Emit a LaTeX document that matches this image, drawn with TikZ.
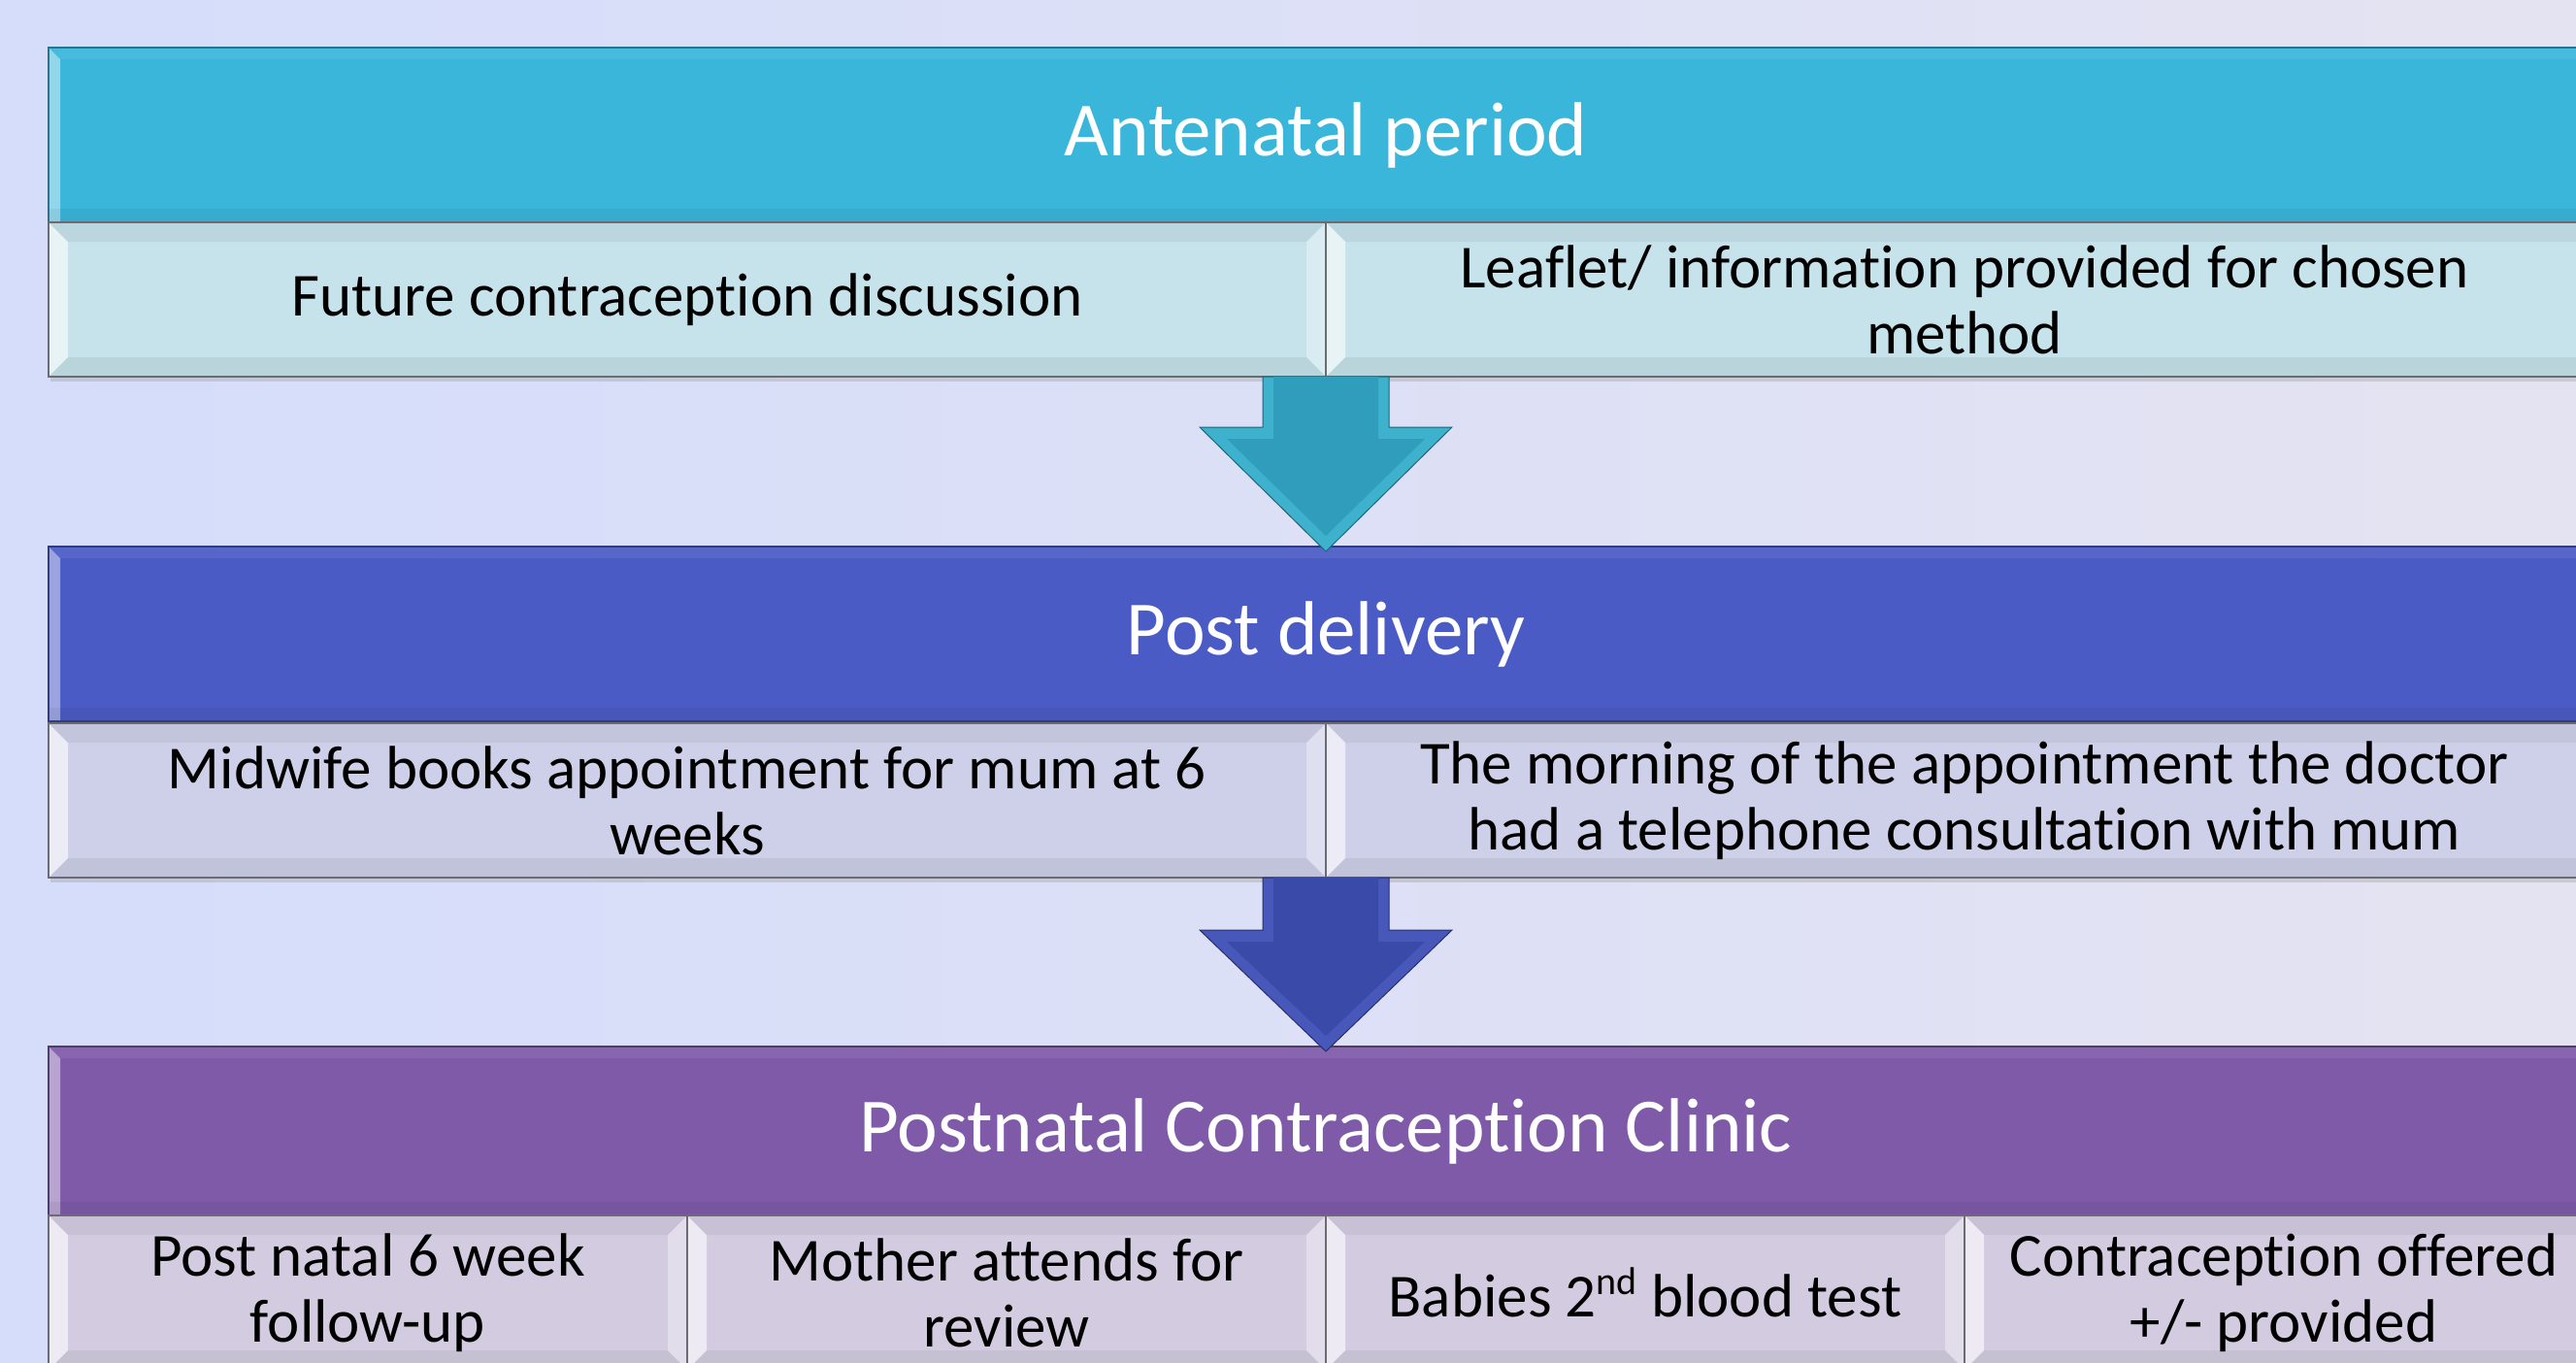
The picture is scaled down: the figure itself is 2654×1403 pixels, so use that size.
\documentclass[tikz,border=0pt]{standalone}
\usepackage{fontspec}
\setmainfont{Carlito}[Ligatures=NoCommon]
\usetikzlibrary{calc,shadows}
\definecolor{bgl}{HTML}{D5DDFB}
\definecolor{bgr}{HTML}{E4E3F1}
\definecolor{hA}{HTML}{3AB6DB}
\definecolor{hB}{HTML}{4A5BC5}
\definecolor{hC}{HTML}{7E5AA9}
\definecolor{sA}{HTML}{C6E2EA}
\definecolor{sB}{HTML}{CDD0E8}
\definecolor{sC}{HTML}{D3CCE1}
\definecolor{aA}{HTML}{2F9DBB}
\definecolor{aAl}{HTML}{3EB1CD}
\definecolor{aB}{HTML}{3A4AA8}
\definecolor{aBl}{HTML}{4858BA}
\definecolor{sbord}{HTML}{6C6C70}
\newcommand{\supnd}[1]{\raisebox{0.75ex}{\fontsize{40}{40}\selectfont #1}}
\tikzset{
  hdrbevel/.style={path picture={
    \fill[white,opacity=.45] (path picture bounding box.north west) -- ++(12,12) -- ($(path picture bounding box.south west)+(12,0)$) -- (path picture bounding box.south west) -- cycle;
    \fill[white,opacity=.07] (path picture bounding box.north west) -- ++(12,12) -- ($(path picture bounding box.north east)+(-12,12)$) -- (path picture bounding box.north east) -- cycle;
    \fill[black,opacity=.05] ($(path picture bounding box.south west)+(0,-14)$) rectangle (path picture bounding box.south east);
  }},
  subbevel/.style={path picture={
    \fill[white,opacity=.6] (path picture bounding box.north west) -- ++(20,20) -- ($(path picture bounding box.south west)+(20,-20)$) -- (path picture bounding box.south west) -- cycle;
    \fill[white,opacity=.35] (path picture bounding box.north east) -- ++(-20,20) -- ($(path picture bounding box.south east)+(-20,-20)$) -- (path picture bounding box.south east) -- cycle;
    \fill[black,opacity=.05] (path picture bounding box.north west) -- ++(20,20) -- ($(path picture bounding box.north east)+(-20,20)$) -- (path picture bounding box.north east) -- cycle;
    \fill[black,opacity=.06] (path picture bounding box.south west) -- ++(20,-20) -- ($(path picture bounding box.south east)+(-20,-20)$) -- (path picture bounding box.south east) -- cycle;
  }},
  hdr/.style={draw=#1!65!black, fill=#1, line width=1.5pt, minimum width=2632pt, minimum height=180pt,
    anchor=north west, inner sep=0pt, outer sep=0pt, text=white, font=\fontsize{79}{86}\selectfont, hdrbevel,
    drop shadow={opacity=.2,shadow xshift=2pt,shadow yshift=-4pt}},
  subbox/.style={draw=sbord, fill=#1, line width=2pt, minimum height=159pt,
    anchor=north west, inner sep=0pt, outer sep=0pt, text=black, align=center, font=\fontsize{63}{68}\selectfont, subbevel,
    drop shadow={opacity=.25,shadow xshift=2pt,shadow yshift=-5pt}},
}
\begin{document}
\begin{tikzpicture}[x=1pt,y=-1pt]
\useasboundingbox (0,0) rectangle (2654,1403);
\shade[left color=bgl, right color=bgr] (0,0) rectangle (2654,1403);
\clip (0,0) rectangle (2654,1403);

% Antenatal
\node[hdr=hA] (h1) at (50,49) {Antenatal period};
\node[subbox=sA, minimum width=1316pt] (s11) at (50,229) {Future contraception discussion};
\node[subbox=sA, minimum width=1316pt] (s12) at (1366,229) {Leaflet/ information provided for chosen\\method};

% Post delivery
\node[hdr=hB] (h2) at (50,563) {Post delivery};
\node[subbox=sB, minimum width=1316pt] (s21) at (50,745) {Midwife books appointment for mum at 6\\weeks};
\node[subbox=sB, minimum width=1316pt] (s22) at (1366,745) {The morning of the appointment the doctor\\had a telephone consultation with mum};

% Postnatal clinic
\node[hdr=hC, minimum height=174pt] (h3) at (50,1078) {Postnatal Contraception Clinic};
\node[subbox=sC, minimum width=658pt] (s31) at (50,1252) {Post natal 6 week\\follow-up};
\node[subbox=sC, minimum width=658pt] (s32) at (708,1252) {Mother attends for\\review};
\node[subbox=sC, minimum width=658pt] (s33) at (1366,1252) {Babies 2\supnd{nd} blood test};
\node[subbox=sC, minimum width=658pt] (s34) at (2024,1252) {Contraception offered\\+/- provided};

% arrows
\coordinate (d1) at (s11.south east);
\coordinate (t1) at ($(h2.north)+(0,5)$);
\fill[aAl, draw=aA!65!black, line width=1pt] ($(d1)+(-65,0)$) -- ($(d1)+(-65,52)$) -- ($(d1)+(-130,52)$) -- (t1) -- ($(d1)+(130,52)$) -- ($(d1)+(65,52)$) -- ($(d1)+(65,0)$) -- cycle;
\fill[aA] ($(d1)+(-54,0)$) -- ($(d1)+(-54,64)$) -- ($(d1)+(-102,64)$) -- ($(t1)+(0,-16)$) -- ($(d1)+(102,64)$) -- ($(d1)+(54,64)$) -- ($(d1)+(54,0)$) -- cycle;

\coordinate (d2) at (s21.south east);
\coordinate (t2) at ($(h3.north)+(0,5)$);
\fill[aBl, draw=aB!65!black, line width=1pt] ($(d2)+(-65,0)$) -- ($(d2)+(-65,54)$) -- ($(d2)+(-130,54)$) -- (t2) -- ($(d2)+(130,54)$) -- ($(d2)+(65,54)$) -- ($(d2)+(65,0)$) -- cycle;
\fill[aB] ($(d2)+(-54,0)$) -- ($(d2)+(-54,66)$) -- ($(d2)+(-102,66)$) -- ($(t2)+(0,-16)$) -- ($(d2)+(102,66)$) -- ($(d2)+(54,66)$) -- ($(d2)+(54,0)$) -- cycle;
\end{tikzpicture}
\end{document}
